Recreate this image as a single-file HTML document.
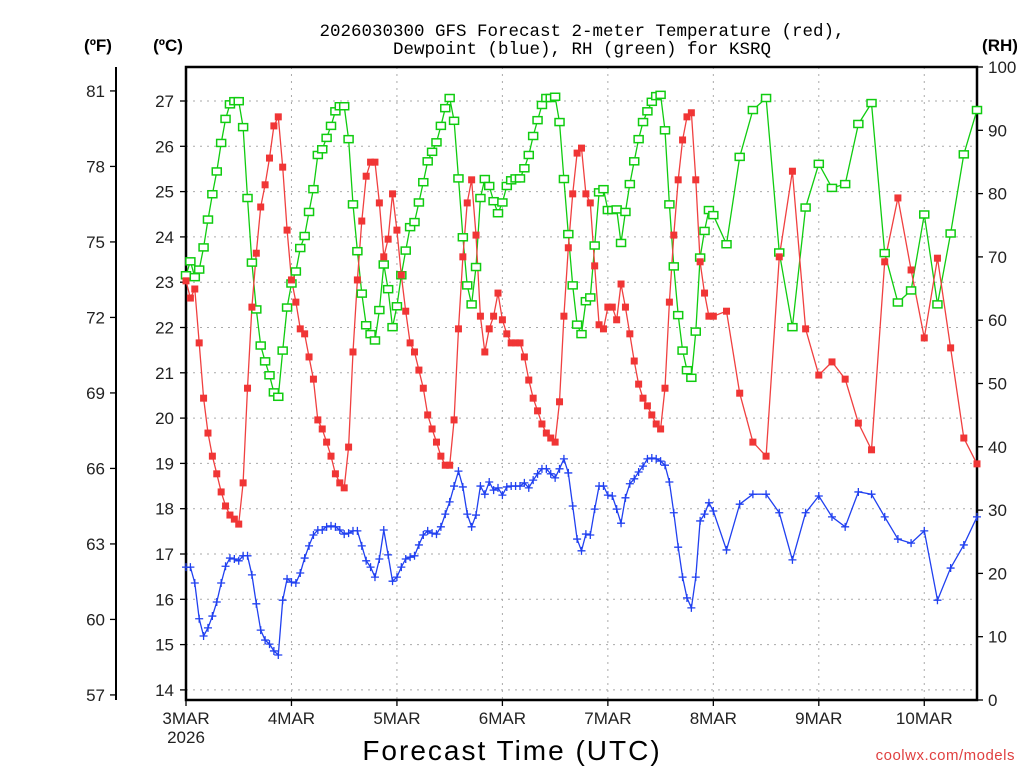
<!DOCTYPE html>
<html><head><meta charset="utf-8">
<style>
html,body{margin:0;padding:0;background:#fff;}
svg{display:block;font-family:"Liberation Sans",sans-serif;}
</style></head>
<body>
<svg id="chart" width="1024" height="768" viewBox="0 0 1024 768" xmlns="http://www.w3.org/2000/svg">
  <text x="582" y="36" font-size="17.5" font-family="Liberation Mono, monospace" text-anchor="middle" fill="#000">2026030300 GFS Forecast 2-meter Temperature (red),</text>
  <text x="582" y="54" font-size="17.5" font-family="Liberation Mono, monospace" text-anchor="middle" fill="#000">Dewpoint (blue), RH (green) for KSRQ</text>
  <text x="98" y="51" font-size="17" font-weight="bold" text-anchor="middle">(ºF)</text>
  <text x="168" y="51" font-size="17" font-weight="bold" text-anchor="middle">(ºC)</text>
  <text x="1000" y="51" font-size="17" font-weight="bold" text-anchor="middle">(RH)</text>
  <text x="512" y="760" font-size="28" text-anchor="middle" letter-spacing="2">Forecast Time (UTC)</text>
  <text x="1015" y="760" font-size="15" text-anchor="end" fill="#e04040" letter-spacing="0.5">coolwx.com/models</text>
  <g id="grid"></g>
  <g id="axes"></g>
  <g id="series"></g>
</svg>
<script>
// ---- data ----
const tempC = [
23.03,22.65,22.85,21.66,20.44,19.67,19.16,18.77,18.37,18.06,17.86,17.77,17.66,18.57,20.66,22.45,23.64,24.66,25.15,25.74,26.45,26.65,25.54,24.15,
23.05,22.56,21.97,21.86,21.35,20.86,19.96,19.76,19.47,19.16,18.77,18.57,18.46,19.36,21.46,23.05,24.35,25.34,25.65,25.65,24.75,23.56,23.95,24.95,
24.15,23.16,22.36,21.66,21.46,21.06,20.66,20.07,19.76,19.47,19.16,18.96,18.96,19.96,21.97,23.56,24.75,25.26,24.04,22.25,21.46,21.97,22.25,22.76,
22.17,21.86,21.66,21.66,21.66,21.35,20.84,20.44,20.16,19.87,19.67,19.56,19.47,20.36,22.25,23.76,24.95,25.85,25.96,24.95,24.75,23.36,22.06,21.97,
22.45,22.45,22.17,22.96,22.45,21.86,21.26,20.75,20.44,20.27,20.07,19.87,19.76,20.66,22.56,24.04,25.26,26.14,26.65,26.74,25.26,23.45,22.76,22.25,22.25,
22.36,20.55,19.47,19.16,23.56,25.45,21.97,20.95,21.24,20.86,19.89,19.30,23.45,24.86,23.27,21.77,23.53,21.55,19.56,18.99];
const dewC = [
16.71,16.71,16.36,15.57,15.19,15.37,15.63,15.94,16.36,16.73,16.91,16.89,16.85,16.96,16.96,16.54,15.90,15.32,15.10,15.01,14.86,14.77,15.98,16.45,
16.38,16.36,16.58,16.91,17.18,17.42,17.53,17.53,17.60,17.62,17.60,17.53,17.44,17.46,17.51,17.51,17.18,16.85,16.71,16.49,16.89,17.53,16.98,16.40,
16.49,16.71,16.89,16.93,16.96,17.20,17.42,17.51,17.46,17.44,17.60,17.88,18.15,18.50,18.83,18.48,17.88,17.60,17.86,18.50,18.32,18.59,18.41,18.46,
18.30,18.48,18.50,18.50,18.50,18.57,18.46,18.63,18.77,18.88,18.88,18.77,18.68,18.88,19.10,18.79,18.06,17.33,17.07,17.44,17.42,17.99,18.50,18.50,
18.30,18.28,17.99,17.68,18.24,18.55,18.66,18.81,18.94,19.10,19.12,19.10,19.05,18.96,18.59,17.91,17.15,16.49,16.03,15.81,16.49,17.73,17.88,18.13,17.95,
17.09,18.10,18.32,18.32,17.91,16.87,17.91,18.28,17.82,17.60,18.37,18.32,17.82,17.33,17.24,17.51,15.98,16.69,17.20,17.82];
const rhPct = [
67.1,69.3,66.8,68.0,71.5,75.9,79.9,83.5,88.0,91.8,94.1,94.6,94.6,90.5,79.3,69.1,61.7,56.0,53.5,51.3,48.6,47.9,55.2,62.0,
65.8,67.7,71.4,73.3,77.1,80.7,86.1,87.0,88.8,90.7,93.0,93.8,93.8,88.6,78.3,70.9,64.2,59.2,57.8,56.8,61.6,68.8,64.9,58.9,
62.2,67.1,71.0,74.7,75.5,78.6,81.8,85.1,86.6,88.1,90.7,93.5,95.1,91.5,82.4,73.1,65.5,62.5,68.4,79.3,82.3,81.2,78.8,76.9,
78.6,81.2,82.1,82.4,82.4,84.0,86.1,89.1,91.6,94.0,95.1,95.1,95.3,91.3,82.3,73.6,65.5,59.3,57.8,63.0,63.6,71.8,80.2,80.7,
77.4,77.4,77.5,72.2,77.1,81.5,85.1,88.6,91.3,93.0,94.5,95.4,95.6,90.0,78.3,68.5,60.8,55.2,52.1,50.9,58.2,69.9,74.1,77.4,76.6,
72.0,85.8,93.2,95.1,70.7,58.9,77.8,84.7,80.9,81.5,91.0,94.3,70.6,62.8,64.7,76.7,62.5,73.7,86.2,93.2];
const hoursHourly = 120;
const hoursEnd = 180;
const dayLabels = ["3MAR","4MAR","5MAR","6MAR","7MAR","8MAR","9MAR","10MAR"];
const celsiusTicks = [14,15,16,17,18,19,20,21,22,23,24,25,26,27];
const fahrenheitTicks = [57,60,63,66,69,72,75,78,81];
const rhTicks = [0,10,20,30,40,50,60,70,80,90,100];

const fHours = [];
for (let h = 0; h <= hoursHourly; h++) fHours.push(h);
for (let h = hoursHourly + 3; h <= hoursEnd; h += 3) fHours.push(h);

const X0 = 186, X1 = 977, YT = 67, YB = 700;
const xScale = h => X0 + (X1 - X0) * h / hoursEnd;
const yC = c => 101 + (27 - c) * 45.3;
const yF = f => yC((f - 32) * 5 / 9);
const yRH = r => YB - (YB - YT) * r / 100;

const NS = "http://www.w3.org/2000/svg";
function mk(tag, attrs, parent) {
  const e = document.createElementNS(NS, tag);
  for (const k in attrs) e.setAttribute(k, attrs[k]);
  parent.appendChild(e);
  return e;
}
const grid = document.getElementById('grid');
const axes = document.getElementById('axes');
const series = document.getElementById('series');

celsiusTicks.forEach(c => {
  const l = mk('line', {x1: X0, x2: X1, y1: yC(c), y2: yC(c), stroke: '#aaa', 'stroke-width': 1, 'stroke-dasharray': '2,5'}, grid);
  
  
});
dayLabels.forEach((d, i) => {
  if (i === 0) return;
  const x = xScale(i * 24);
  const l = mk('line', {x1: x, x2: x, y1: YT, y2: YB, stroke: '#aaa', 'stroke-width': 1, 'stroke-dasharray': '2,5'}, grid);
  
  
});

const frame = mk('path', {d: `M${X0},${YB} L${X0},${YT} L${X1},${YT} L${X1},${YB} Z`, fill: 'none', stroke: '#000', 'stroke-width': 2.5}, axes);


const fAxis = mk('line', {x1: 116, x2: 116, y1: YT, y2: YB, stroke: '#000', 'stroke-width': 2}, axes);



celsiusTicks.forEach(c => {
  const y = yC(c);
  mk('line', {x1: X0 - 6, x2: X0, y1: y, y2: y, stroke: '#000', 'stroke-width': 1.3}, axes);
  const t = mk('text', {x: X0 - 12, y: y + 6, 'font-size': 17, 'text-anchor': 'end', fill: '#222'}, axes);
  t.textContent = c;
  
  
});
fahrenheitTicks.forEach(f => {
  const y = yF(f);
  mk('line', {x1: 110, x2: 116, y1: y, y2: y, stroke: '#000', 'stroke-width': 1.3}, axes);
  const t = mk('text', {x: 105, y: y + 6, 'font-size': 17, 'text-anchor': 'end', fill: '#222'}, axes);
  t.textContent = f;
  
  
});
rhTicks.forEach(r => {
  const y = yRH(r);
  mk('line', {x1: X1, x2: X1 + 6, y1: y, y2: y, stroke: '#000', 'stroke-width': 1.3}, axes);
  const t = mk('text', {x: 988, y: y + 6, 'font-size': 17, 'text-anchor': 'start', fill: '#222'}, axes);
  t.textContent = r;
  
  
});
dayLabels.forEach((d, i) => {
  const x = xScale(i * 24);
  mk('line', {x1: x, x2: x, y1: YB, y2: YB + 6, stroke: '#000', 'stroke-width': 1.3}, axes);
  const t = mk('text', {x: x, y: 724, 'font-size': 17, 'text-anchor': 'middle', fill: '#222'}, axes);
  t.textContent = d;
  
  
});
const yr = mk('text', {x: xScale(0), y: 743, 'font-size': 17, 'text-anchor': 'middle', fill: '#222'}, axes);
yr.textContent = '2026';



function drawLine(vals, yfn, color, name) {
  const pts = vals.map((v, i) => xScale(fHours[i]).toFixed(1) + ',' + yfn(v).toFixed(1)).join(' ');
  const pl = mk('polyline', {points: pts, fill: 'none', stroke: color, 'stroke-width': 1.3}, series);
  
  
}
drawLine(rhPct, yRH, '#10cc10', 'rh-line');
drawLine(tempC, yC, '#f04040', 'temperature-line');
drawLine(dewC, yC, '#2040f0', 'dewpoint-line');

rhPct.forEach((v, i) => {
  const x = xScale(fHours[i]), y = yRH(v);
  const r = mk('rect', {x: x - 4.5, y: y - 3.5, width: 9, height: 7, fill: '#fff', stroke: '#10cc10', 'stroke-width': 1.5}, series);
  
  
});
tempC.forEach((v, i) => {
  const x = xScale(fHours[i]), y = yC(v);
  const r = mk('rect', {x: x - 3.5, y: y - 3.5, width: 7, height: 7, fill: '#f03535'}, series);
  
  
});
dewC.forEach((v, i) => {
  const x = xScale(fHours[i]), y = yC(v);
  const p = mk('path', {d: `M${x - 4},${y} H${x + 4} M${x},${y - 4} V${y + 4}`, stroke: '#2040f0', 'stroke-width': 1.3, fill: 'none'}, series);
  
  
});
</script>
</body></html>
